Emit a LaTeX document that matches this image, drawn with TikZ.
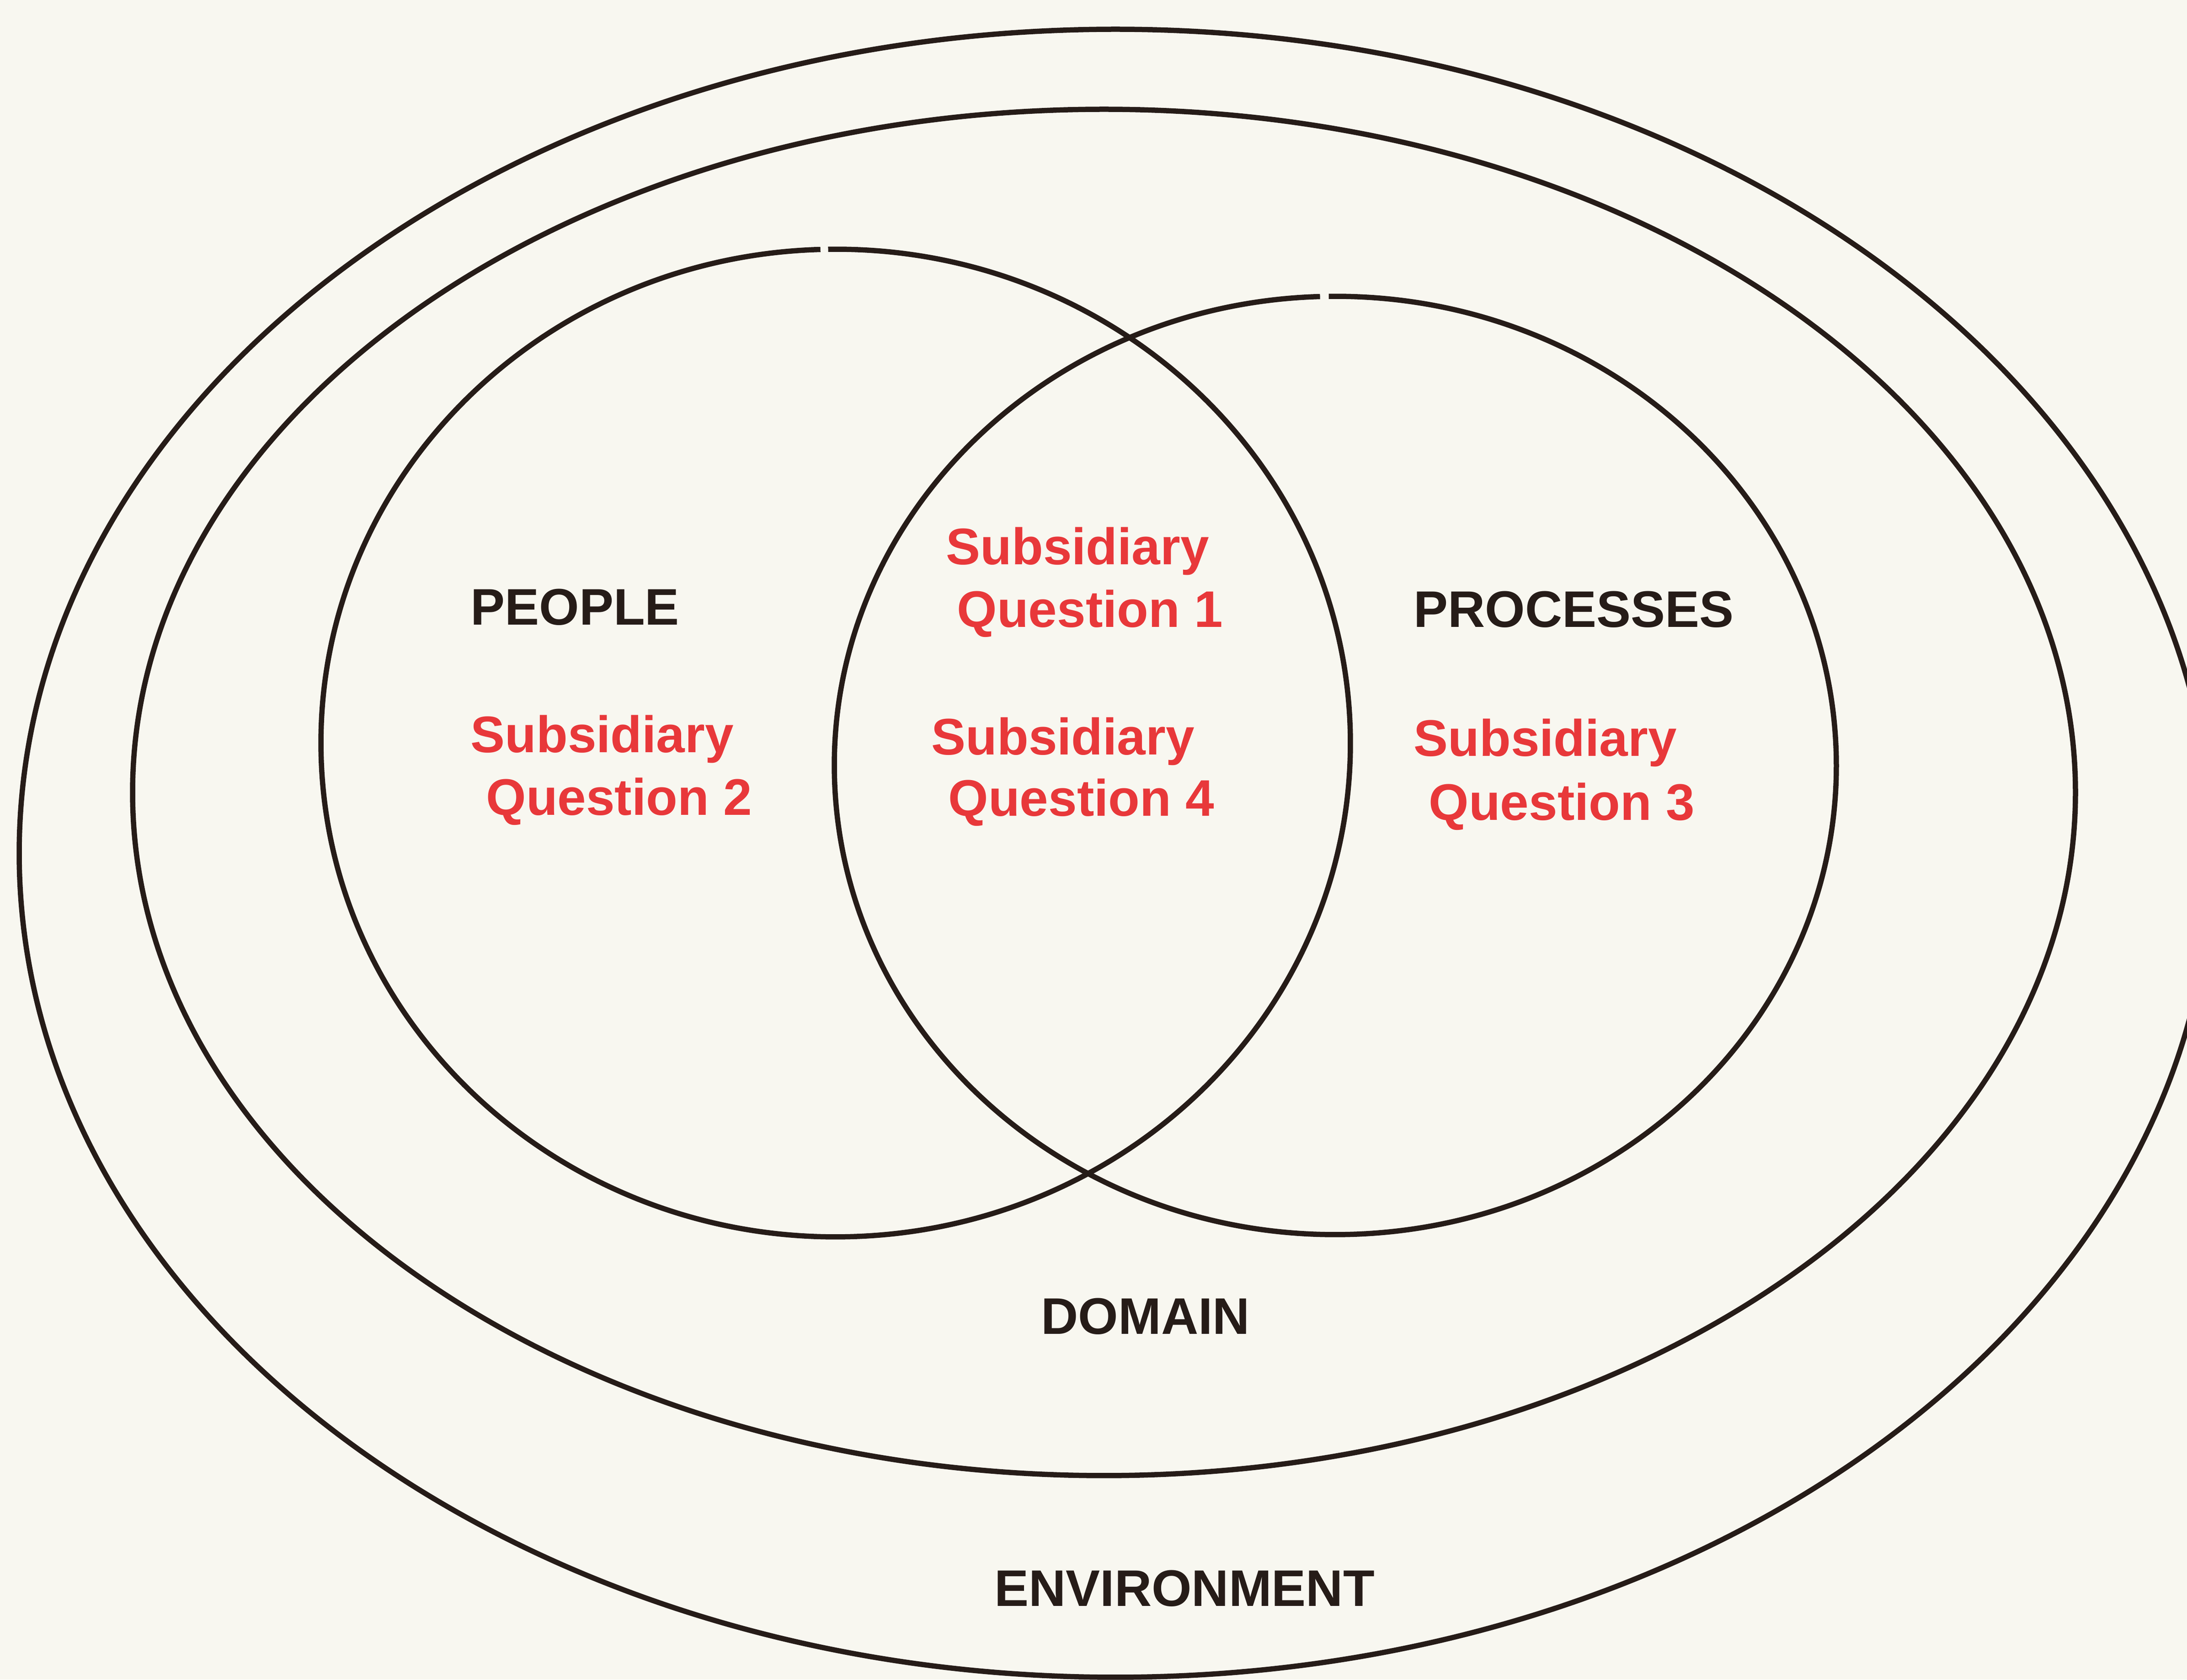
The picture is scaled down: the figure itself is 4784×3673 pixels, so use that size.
\documentclass[tikz,border=0pt]{standalone}
\usepackage{fontspec}
\setmainfont{Liberation Sans}
\definecolor{bg}{RGB}{248,247,240}
\definecolor{ink}{RGB}{38,28,24}
\definecolor{qred}{RGB}{232,56,58}
\begin{document}
\begin{tikzpicture}[x=0.1mm,y=0.1mm,
  ring/.style={draw=ink,line width=1.15mm},
  lbl/.style={anchor=base west,inner sep=0pt,font=\bfseries\fontsize{32}{38}\selectfont},
  blk/.style={lbl,text=ink},
  qlbl/.style={lbl,text=qred}]
\useasboundingbox (0,0) rectangle (4784,3673);
\fill[bg] (0,0) rectangle (4784,3673);
\clip (0,0) rectangle (4784,3673);

% centres
\coordinate (cOut) at (2440,1807);
\coordinate (cMid) at (2415,1940);
\coordinate (cL) at (1828,2048);
\coordinate (cR) at (2921,1999);

% environment and domain
\draw[ring] (cOut) ellipse [x radius=239.8mm, y radius=180.2mm];
\draw[ring] (cMid) ellipse [x radius=212.5mm, y radius=149.4mm];

% people and processes (small gaps at the top, as drawn)
\draw[ring] (cL) ++(91.7:112.6mm and 108mm)
  arc[start angle=91.7, end angle=450.84, x radius=112.6mm, y radius=108mm];
\draw[ring] (cR) ++(91.75:109.6mm and 102.6mm)
  arc[start angle=91.75, end angle=450.75, x radius=109.6mm, y radius=102.6mm];

% labels
\node[blk] (people) at (1029,2306) {PEOPLE};
\node[blk] (processes) at (3092,2301) {PROCESSES};
\node[blk] (domain) at (2277,755) {DOMAIN};
\node[blk] (environment) at (2175,161) {ENVIRONMENT};

\node[qlbl] (q1a) at (2069,2438) {Subsidiary};
\node[qlbl] (q1b) at (2093,2301) {Question 1};
\node[qlbl] (q2a) at (1029,2027) {Subsidiary};
\node[qlbl] (q2b) at (1063,1890) {Question 2};
\node[qlbl] (q4a) at (2037,2022) {Subsidiary};
\node[qlbl] (q4b) at (2074,1888) {Question 4};
\node[qlbl] (q3a) at (3092,2019) {Subsidiary};
\node[qlbl] (q3b) at (3125,1879) {Question 3};
\end{tikzpicture}
\end{document}
